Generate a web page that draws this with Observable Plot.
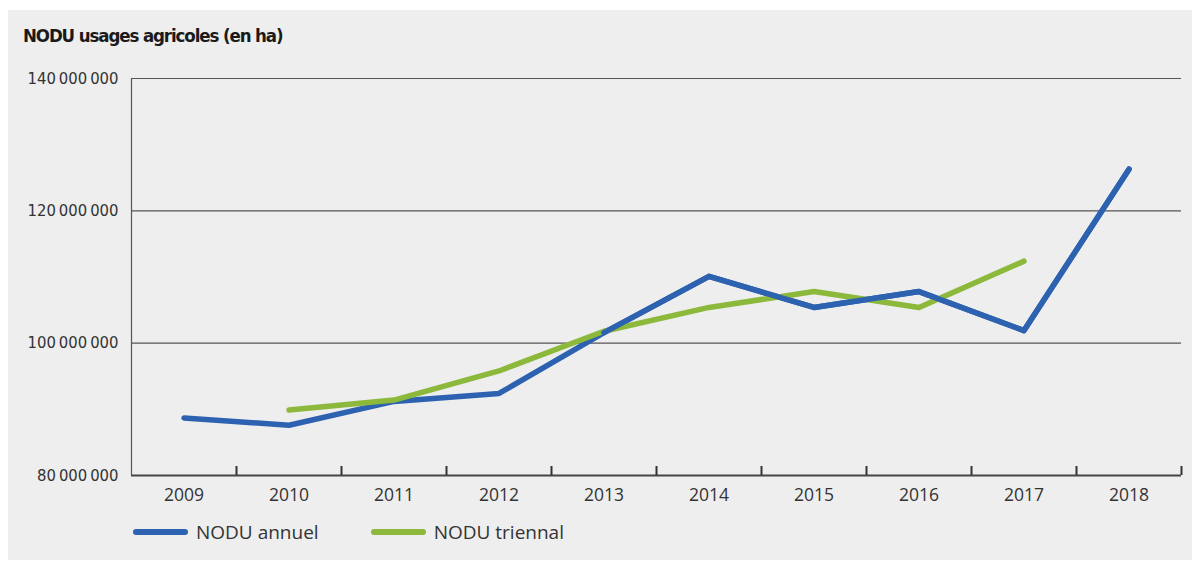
<!DOCTYPE html>
<html><head><meta charset="utf-8">
<script src="https://cdn.jsdelivr.net/npm/d3@7"></script>
<script src="https://cdn.jsdelivr.net/npm/@observablehq/plot@0.6"></script>
<style>
body{margin:0;background:#fff;width:1200px;height:562px;overflow:hidden;position:relative;font-family:"Open Sans",sans-serif}
#panel{position:absolute;left:8px;top:10px;width:1184px;height:550px;background:#eeeeee}
#title{position:absolute;left:23px;top:25px;font-family:"DejaVu Sans Condensed","DejaVu Sans",sans-serif;font-stretch:condensed;font-weight:bold;font-size:18.5px;color:#1a1a1a;letter-spacing:-1.1px}
#chart{position:absolute;left:0;top:0}
#legend{position:absolute;left:133px;top:519px;display:flex;align-items:center;font-size:19px;color:#333}
.item{display:flex;align-items:center;margin-right:52px}
.sw{width:55px;height:6px;border-radius:3px;margin-right:8px}
</style></head>
<body>
<div id="panel"></div>
<div id="chart"></div>
<div id="title">NODU usages agricoles (en ha)</div>
<div id="legend"></div>
<script>
const years = [2009, 2010, 2011, 2012, 2013, 2014, 2015, 2016, 2017, 2018];
const annuel = [88.7e6, 87.6e6, 91.2e6, 92.4e6, 101.6e6, 110.1e6, 105.4e6, 107.8e6, 101.9e6, 126.3e6];
const triennal = [null, 89.9e6, 91.4e6, 95.8e6, 101.8e6, 105.4e6, 107.8e6, 105.4e6, 112.4e6, null];
const yTicks = [80e6, 100e6, 120e6, 140e6];
const seriesNames = ["NODU annuel", "NODU triennal"];
const colors = ["#2d62b0", "#8cb83c"];

const rowsA = years.map((y, i) => ({year: y, value: annuel[i]}));
const rowsT = years.map((y, i) => ({year: y, value: triennal[i]})).filter(d => d.value != null);
const bounds = years.map(y => y + 0.5);
const fmt = v => d3.format(",")(v).replace(/,/g, "\u2009");

const chart = Plot.plot({
  width: 1200, height: 510,
  marginLeft: 131, marginRight: 19, marginTop: 78, marginBottom: 35,
  style: {background: "transparent", color: "#333"},
  x: {type: "linear", domain: [years[0] - 0.5, years[years.length - 1] + 0.5]},
  y: {domain: [yTicks[0], yTicks[yTicks.length - 1]]},
  marks: [
    Plot.ruleY(yTicks.slice(1), {stroke: "#555", strokeWidth: 1.2}),
    Plot.ruleY([yTicks[0]], {stroke: "#444", strokeWidth: 2}),
    Plot.ruleX([years[0] - 0.5], {stroke: "#555", strokeWidth: 1.2}),
    Plot.ruleX(bounds, {y1: yTicks[0], y2: yTicks[0], insetTop: -9, stroke: "#333", strokeWidth: 2}),
    Plot.axisY({ticks: yTicks, tickSize: 0, tickPadding: 13, tickFormat: fmt, label: null,
      fontSize: 16.5, fontFamily: "'DejaVu Sans Condensed', 'DejaVu Sans', sans-serif", fill: "#333", style: {letterSpacing: "-0.4px"}}),
    Plot.axisX({ticks: years, tickSize: 0, tickPadding: 13, tickFormat: d => String(d), label: null,
      fontSize: 17.5, fontFamily: "'Open Sans', sans-serif", fill: "#333"}),
    Plot.line(rowsA, {x: "year", y: "value", stroke: colors[0], strokeWidth: 5.5, strokeLinecap: "round", strokeLinejoin: "round"}),
    Plot.line(rowsT, {x: "year", y: "value", stroke: colors[1], strokeWidth: 5.5, strokeLinecap: "round", strokeLinejoin: "round"}),
    Plot.line(rowsA, {x: "year", y: "value", stroke: colors[0], strokeWidth: 5.5, strokeLinecap: "round", strokeLinejoin: "round", filter: d => d.year >= 2013})
  ]
});
document.getElementById("chart").appendChild(chart);

const lg = document.getElementById("legend");
seriesNames.forEach((n, i) => {
  const it = document.createElement("div"); it.className = "item";
  const sw = document.createElement("div"); sw.className = "sw"; sw.style.background = colors[i];
  const t = document.createElement("span"); t.textContent = n;
  it.appendChild(sw); it.appendChild(t); lg.appendChild(it);
});
</script>
</body></html>
